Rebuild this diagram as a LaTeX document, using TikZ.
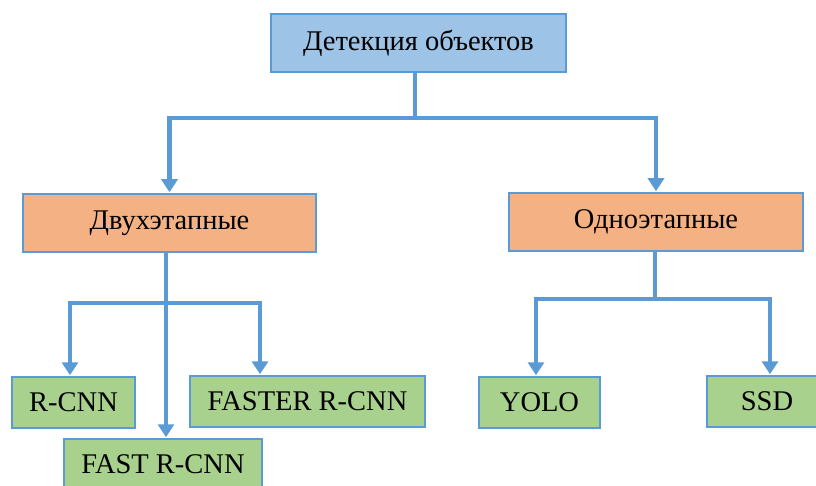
\documentclass[tikz,border=0pt]{standalone}
\usepackage{fontspec}
\setmainfont{Liberation Serif}
\usetikzlibrary{arrows.meta}
\definecolor{edgeblue}{HTML}{5B9BD5}
\definecolor{topfill}{HTML}{9DC3E6}
\definecolor{stagefill}{HTML}{F4B183}
\definecolor{leaffill}{HTML}{A9D18E}
\tikzset{
  box/.style={draw=edgeblue, line width=2.5pt, inner sep=0pt,
    font=\fontsize{28.5}{32}\selectfont, text=black},
  rootbox/.style={box, fill=topfill, minimum width=295pt, minimum height=58pt},
  stagebox/.style={box, fill=stagefill, minimum width=293pt, minimum height=58pt},
  leafbox/.style={box, fill=leaffill, minimum height=51pt},
  link/.style={draw=edgeblue, line width=4.5pt, line join=miter},
  arrowlink/.style={link, -{Triangle[width=16pt,length=13pt]}, shorten >=0.5pt},
}
\begin{document}
\begin{tikzpicture}[x=1pt,y=1pt]
\useasboundingbox (0,0) rectangle (816,-486);
\clip (0,0) rectangle (816,-486);

% boxes
\node[rootbox] (root) at (418.5,-43) {Детекция объектов};
\node[stagebox] (two) at (169.5,-223) {Двухэтапные};
\node[stagebox, minimum width=294pt] (one) at (656,-222) {Одноэтапные};
\node[leafbox, minimum width=123pt] (rcnn) at (73.5,-402.5) {R-CNN};
\node[leafbox, minimum width=235pt] (faster) at (307.5,-401.5) {FASTER R-CNN};
\node[leafbox, minimum width=198pt] (fast) at (163,-464.5) {FAST R-CNN};
\node[leafbox, minimum width=121pt] (yolo) at (539.5,-402.5) {YOLO};
\node[leafbox, minimum width=120pt] (ssd) at (767,-401.5) {SSD};

% junction points of the branching lines
\coordinate (j1) at (415,-118);
\coordinate (j2) at (166,-303);
\coordinate (j3) at (655,-299);

% root to the two families
\draw[link] (root.south -| j1) -- (j1);
\draw[arrowlink] (j1) -| (two.north);
\draw[arrowlink] (j1) -| (one.north);

% two-stage detectors
\draw[arrowlink] (two.south -| j2) -- (fast.north -| j2);
\draw[arrowlink] (j2) -| ([xshift=-3.5pt]rcnn.north);
\draw[arrowlink] (j2) -| ([xshift=-47.5pt]faster.north);

% one-stage detectors
\draw[link] (one.south -| j3) -- (j3);
\draw[arrowlink] (j3) -| ([xshift=-3.5pt]yolo.north);
\draw[arrowlink] (j3) -| ([xshift=3pt]ssd.north);
\end{tikzpicture}
\end{document}
